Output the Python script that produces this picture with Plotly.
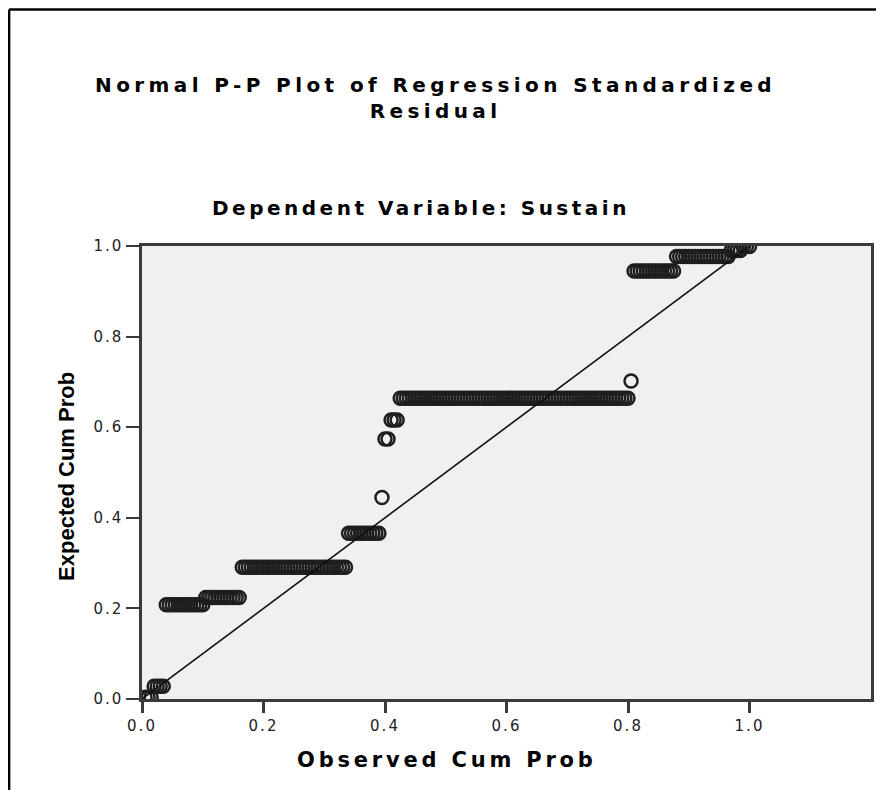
import numpy as np
import plotly.graph_objects as go

# ---- data ----
# tied residual groups: expected cumulative probability and number of cases
group_expected = [0.004, 0.028, 0.208, 0.224, 0.291, 0.366, 0.445, 0.574, 0.616,
                  0.664, 0.702, 0.945, 0.977, 0.990, 0.999]
group_counts = [3, 4, 13, 12, 35, 11, 1, 2, 3, 76, 1, 14, 18, 4, 3]

x_ticks = [0.0, 0.2, 0.4, 0.6, 0.8, 1.0]
x_tick_labels = ["0.0", "0.2", "0.4", "0.6", "0.8", "1.0"]
y_ticks = [0.0, 0.2, 0.4, 0.6, 0.8, 1.0]
y_tick_labels = ["0.0", "0.2", "0.4", "0.6", "0.8", "1.0"]
ref_line_x = [0.0, 1.0]
ref_line_y = [0.0, 1.0]

# observed cumulative probability = rank / n (P-P plot definition)
n_cases = sum(group_counts)
expected = np.repeat(group_expected, group_counts)
observed = np.arange(1, n_cases + 1) / n_cases

# ---- layout geometry ----
# positions measured on the reference image; the page body adds an 8px offset
OFF = 8
W, H = 884 - OFF, 790 - OFF
L, R, T, B = 142.3 - OFF, 873.5 - OFF, 245.7 - OFF, 699.3 - OFF


def px_x(rx):
    return (rx - OFF - L) / (R - L)


def px_y(ry):
    return (B - (ry - OFF)) / (B - T)


def ls(text, sp):
    return f'<span style="letter-spacing:{sp}px">{text}</span>'


FONT = "DejaVu Sans"
AX = "#3a3a3a"

fig = go.Figure()
fig.add_trace(go.Scatter(
    x=observed, y=expected, mode="markers",
    marker=dict(symbol="circle-open", size=13, color="#1e1e1e",
                line=dict(width=2.5, color="#1e1e1e")),
    showlegend=False, hoverinfo="x+y"))
fig.add_trace(go.Scatter(
    x=ref_line_x, y=ref_line_y, mode="lines",
    line=dict(color="#111111", width=1.6), showlegend=False, hoverinfo="skip"))

tick_font = dict(family=FONT, size=15, color="#222222")
fig.update_xaxes(
    range=[0, 1.2], tickvals=x_ticks,
    ticktext=[ls(t, 2) for t in x_tick_labels],
    showgrid=False, zeroline=False, showline=True, mirror=True,
    linecolor=AX, linewidth=2.5, ticks="outside", ticklen=11,
    tickwidth=2.5, tickcolor=AX, tickfont=tick_font)
fig.update_yaxes(
    range=[0, 1.0], tickvals=y_ticks,
    ticktext=[ls(t, 2) for t in y_tick_labels],
    showgrid=False, zeroline=False, showline=True, mirror=True,
    linecolor=AX, linewidth=2.5, ticks="outside", ticklen=13,
    tickwidth=2, tickcolor=AX, tickfont=tick_font)


def label(text, rx, ry, font, angle=0):
    return dict(text=text, x=px_x(rx), y=px_y(ry), xref="paper", yref="paper",
                xanchor="center", yanchor="middle", showarrow=False,
                textangle=angle, font=font)


annotations = [
    label(ls("<b>Normal P-P Plot of Regression Standardized</b>", 4.4) + "<br>"
          + ls("<b>Residual</b>", 4.4), 437, 98,
          dict(family=FONT, size=20, color="#000000")),
    label(ls("<b>Dependent Variable: Sustain</b>", 3.5), 422, 208,
          dict(family=FONT, size=20, color="#000000")),
    label(ls("<b>Observed Cum Prob</b>", 3.8), 448, 760,
          dict(family=FONT, size=21, color="#000000")),
    label("<b>Expected Cum Prob</b>", 67, 476,
          dict(family="Liberation Sans", size=22, color="#000000"), angle=-90),
]

shapes = [
    dict(type="line", xref="paper", yref="paper",
         x0=px_x(9), x1=px_x(9), y0=px_y(9), y1=px_y(800),
         line=dict(color="#000000", width=2.5)),
    dict(type="line", xref="paper", yref="paper",
         x0=px_x(9), x1=px_x(900), y0=px_y(9), y1=px_y(9),
         line=dict(color="#000000", width=2.5)),
]

fig.update_layout(
    width=W, height=H,
    margin=dict(l=L, r=W - R, t=T, b=H - B, pad=0),
    paper_bgcolor="#ffffff", plot_bgcolor="#f0f0f0",
    annotations=annotations, shapes=shapes,
    font=dict(family=FONT),
)

fig.write_html("out.html")
